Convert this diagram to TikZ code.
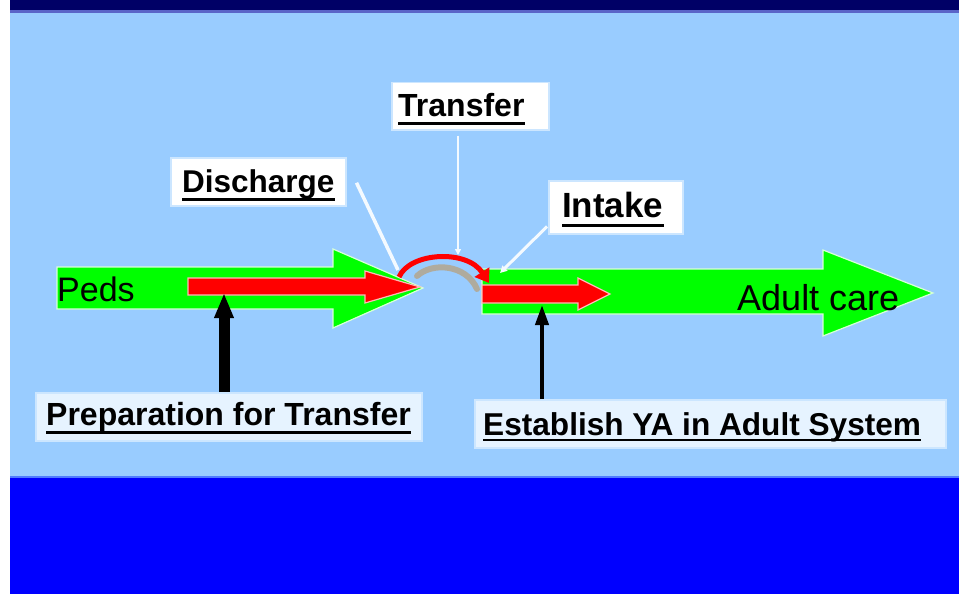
\documentclass[tikz,border=0pt]{standalone}
\usepackage{fontspec}
\setmainfont{Liberation Sans}
\usetikzlibrary{arrows.meta}

\definecolor{sky}{HTML}{99CCFF}
\definecolor{navy}{HTML}{000066}
\definecolor{navyedge}{HTML}{5A64C8}
\definecolor{deepblue}{HTML}{0000FF}
\definecolor{deepedge}{HTML}{4F7BFF}
\definecolor{boxedge}{HTML}{CCE6FF}
\definecolor{paleboxfill}{HTML}{E6F3FF}
\definecolor{lime}{HTML}{00FF00}
\definecolor{limeedge}{HTML}{D8FFD8}
\definecolor{rededge}{HTML}{FFB8B8}
\definecolor{hopshadow}{HTML}{B4A68E}
\definecolor{pointer}{HTML}{F4FAFF}

\tikzset{
  labelbox/.style={rectangle, fill=white, draw=boxedge, line width=1.5pt,
    anchor=north west, inner sep=0pt},
  palebox/.style={labelbox, fill=paleboxfill},
  lbl/.style={font=\fontsize{31}{31}\selectfont\bfseries, inner sep=0pt,
    anchor=base west, text=black},
  bigword/.style={font=\fontsize{34}{34}\selectfont, inner sep=0pt,
    anchor=base west, text=black},
  uline/.style={line width=3pt, black},
  greenarrow/.style={fill=lime, draw=limeedge, line width=1.2pt},
  redarrow/.style={fill=red, draw=rededge, line width=1.2pt},
  pointerline/.style={draw=pointer, line width=3.5pt},
  uparrow/.style={draw=black}
}

\begin{document}
\begin{tikzpicture}[x=1pt,y=-1pt]
\useasboundingbox (0,0) rectangle (959,594);

% slide backdrop
\fill[white] (0,0) rectangle (959,594);
\fill[sky] (10,0) rectangle (959,594);
\fill[navy] (10,0) rectangle (959,10);
\fill[navyedge] (10,10) rectangle (959,13);
\fill[deepedge] (10,475.5) rectangle (959,478);
\fill[deepblue] (10,478) rectangle (959,594);

% broad green flows
\path[greenarrow] (57,267) -- (333,267) -- (333,249) -- (423,288)
  -- (333,328) -- (333,309) -- (57,309) -- cycle;
\path[greenarrow] (482,269) -- (823,269) -- (823,250) -- (933,293)
  -- (823,336) -- (823,314) -- (482,314) -- cycle;

% red process arrows
\path[redarrow] (188,278) -- (365,278) -- (365,271) -- (420,287)
  -- (365,303) -- (365,295) -- (188,295) -- cycle;
\path[redarrow] (482,285) -- (578,285) -- (578,278) -- (610,294)
  -- (578,310) -- (578,303) -- (482,303) -- cycle;

% hop across the gap, with its soft shadow
\draw[hopshadow, line width=6pt, line cap=round, opacity=0.85]
  (417,276) .. controls (432,262) and (466,264) .. (477,289);
\draw[red, line width=5pt, -{Triangle[length=13pt,width=17pt]}]
  (399,277) .. controls (410,252) and (467,249) .. (489,283);

% flow labels
\node[bigword] (peds) at (57,301) {Peds};
\node[bigword, font=\fontsize{36}{36}\selectfont] (adult) at (737,310) {Adult care};

% stage labels
\node[labelbox, minimum width=157pt, minimum height=47pt] (tbox) at (391,82) {};
\node[lbl, font=\fontsize{32}{32}\selectfont\bfseries] (ttext) at (398,117) {Transfer};
\draw[uline] ([yshift=-6pt]ttext.base west) -- ([yshift=-6pt]ttext.base east);

\node[labelbox, minimum width=175pt, minimum height=48pt] (dbox) at (170,157) {};
\node[lbl, font=\fontsize{31.5}{31.5}\selectfont\bfseries] (dtext) at (182,192) {Discharge};
\draw[uline] ([yshift=-7pt]dtext.base west) -- ([yshift=-7pt]dtext.base east);

\node[labelbox, minimum width=134pt, minimum height=53pt] (ibox) at (548,180) {};
\node[lbl, font=\fontsize{35}{35}\selectfont\bfseries] (itext) at (562,217) {Intake};
\draw[uline] ([yshift=-8pt]itext.base west) -- ([yshift=-8pt]itext.base east);

\node[palebox, minimum width=386pt, minimum height=48pt] (pbox) at (35,392) {};
\node[lbl, font=\fontsize{32}{32}\selectfont\bfseries] (ptext) at (46,425) {Preparation for Transfer};
\draw[uline] ([yshift=-7pt]ptext.base west) -- ([yshift=-7pt]ptext.base east);

\node[palebox, minimum width=471pt, minimum height=48pt] (ebox) at (474,399) {};
\node[lbl, font=\fontsize{31.6}{31.6}\selectfont\bfseries] (etext) at (483,435) {Establish YA in Adult System};
\draw[uline, line width=2.5pt] ([yshift=-5pt]etext.base west) -- ([yshift=-5pt]etext.base east);

% pointer targets
\coordinate (dtip) at (398,270);
\coordinate (ttip) at (458,255);
\coordinate (itip) at (500,273);
\coordinate (ptip) at (224,293);
\coordinate (etip) at (542,305);

% white pointers from the stage labels
\draw[pointerline] ([xshift=10pt,yshift=-1pt]dbox.east) -- (dtip);
\draw[pointerline, line width=2.5pt, -{Triangle[length=6pt,width=6pt]}]
  ([yshift=-5pt]tbox.south -| ttip) -- (ttip);
\draw[pointerline, line width=3pt, -{Triangle[length=7pt,width=7pt]}]
  ([xshift=-1pt,yshift=8pt]ibox.south west) -- (itip);

% black arrows rising from the lower labels
\draw[uparrow, line width=11pt, -{Triangle[length=25pt,width=18pt]}]
  (pbox.north -| ptip) -- (ptip);
\draw[uparrow, line width=4pt, -{Triangle[length=20pt,width=13pt]}]
  (ebox.north -| etip) -- (etip);
\end{tikzpicture}
\end{document}
